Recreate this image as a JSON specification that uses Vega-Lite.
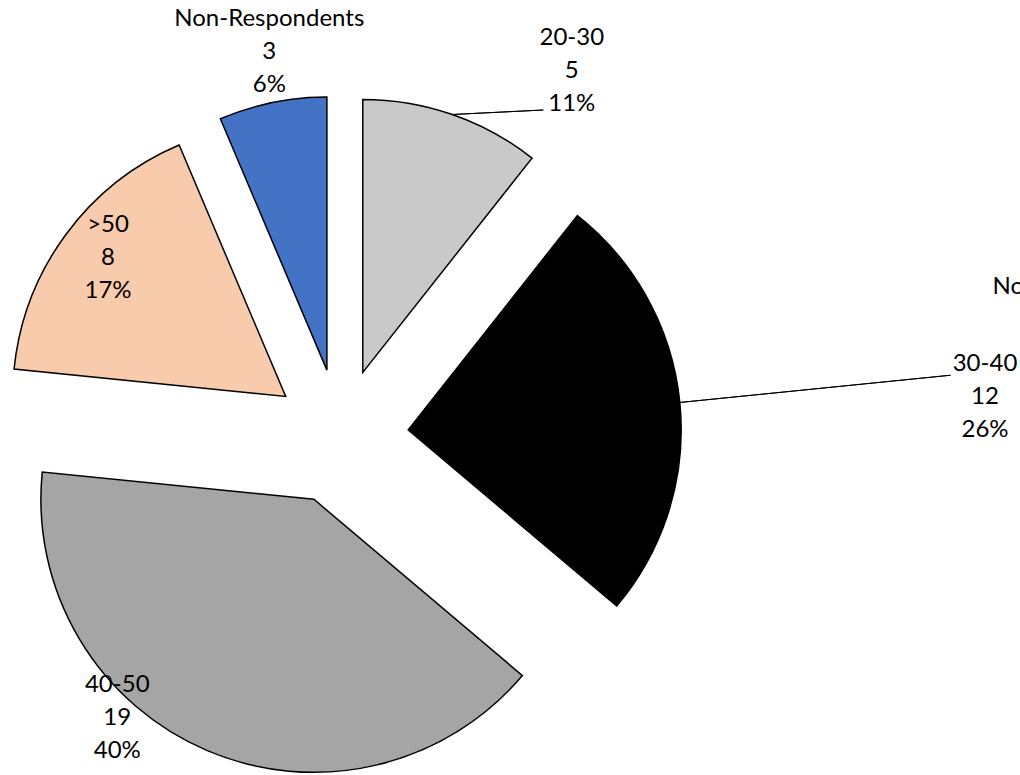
{
  "$schema": "https://vega.github.io/schema/vega-lite/v6.json",
  "width": 560,
  "height": 560,
  "autosize": {"type": "none"},
  "padding": {"left": 60.5, "top": 156.7, "right": 399.5, "bottom": 58.3},
  "data": {
    "values": [
      {"age": "20-30", "count": 5, "pct": "11%", "order": 1},
      {"age": "30-40", "count": 12, "pct": "26%", "order": 2},
      {"age": "40-50", "count": 19, "pct": "40%", "order": 3},
      {"age": ">50", "count": 8, "pct": "17%", "order": 4},
      {"age": "Non-Respondents", "count": 3, "pct": "6%", "order": 5}
    ]
  },
  "transform": [
    {"stack": "count", "groupby": [], "sort": [{"field": "order", "order": "ascending"}], "as": ["t0", "t1"]},
    {"calculate": "datum.age + '\\n' + datum.count + '\\n' + datum.pct", "as": "label"}
  ],
  "encoding": {
    "theta": {"field": "t0", "type": "quantitative", "stack": null, "scale": {"domain": [0, 47], "range": [0, 6.283185307179586]}}
  },
  "layer": [
    {"transform": [{"filter": "datum.age === '20-30'"}], "mark": {"type": "arc", "radius": 273, "xOffset": 22.3, "yOffset": -64.3, "fill": "#C9C9C9", "stroke": "#000000", "strokeWidth": 1.5}, "encoding": {"theta2": {"field": "t1"}}},
    {"transform": [{"filter": "datum.age === '30-40'"}], "mark": {"type": "arc", "radius": 273, "xOffset": 67.7, "yOffset": -6.9, "fill": "#000000", "stroke": "#000000", "strokeWidth": 1.5}, "encoding": {"theta2": {"field": "t1"}}},
    {"transform": [{"filter": "datum.age === '40-50'"}], "mark": {"type": "arc", "radius": 273, "xOffset": -26.6, "yOffset": 62.6, "fill": "#A5A5A5", "stroke": "#000000", "strokeWidth": 1.5}, "encoding": {"theta2": {"field": "t1"}}},
    {"transform": [{"filter": "datum.age === '>50'"}], "mark": {"type": "arc", "radius": 273, "xOffset": -54.8, "yOffset": -40.3, "fill": "#F8CBAD", "stroke": "#000000", "strokeWidth": 1.5}, "encoding": {"theta2": {"field": "t1"}}},
    {"transform": [{"filter": "datum.age === 'Non-Respondents'"}], "mark": {"type": "arc", "radius": 273, "xOffset": -13.6, "yOffset": -66.6, "fill": "#4472C4", "stroke": "#000000", "strokeWidth": 1.5}, "encoding": {"theta2": {"field": "t1"}}},
    {"transform": [{"filter": "datum.age === '30-40'"}], "mark": {"type": "arc", "radius": 273, "radius2": 545, "thetaOffset": 0.8021, "theta2Offset": 0.8021, "xOffset": 67.7, "yOffset": -6.9, "stroke": "#000000", "strokeWidth": 1, "fill": null}, "encoding": {"theta2": {"field": "t0"}}},
    {"transform": [{"filter": "datum.age === '20-30'"}], "mark": {"type": "arc", "radius": 0, "radius2": 91, "thetaOffset": 1.5214, "theta2Offset": 1.5214, "xOffset": 111.9, "yOffset": -322.2, "stroke": "#000000", "strokeWidth": 1, "fill": null}, "encoding": {"theta2": {"field": "t0"}}},
    {"transform": [{"filter": "datum.age === '20-30'"}], "mark": {"type": "text", "radius": 432.8, "thetaOffset": 0.5637, "dy": -33, "font": "Lato", "fontSize": 24, "lineHeight": 33, "lineBreak": "\n", "align": "center", "baseline": "middle", "color": "#000000"}, "encoding": {"text": {"field": "label"}}},
    {"transform": [{"filter": "datum.age === '30-40'"}], "mark": {"type": "text", "radius": 645.7, "thetaOffset": 0.8413, "dy": -33, "font": "Lato", "fontSize": 24, "lineHeight": 33, "lineBreak": "\n", "align": "center", "baseline": "middle", "color": "#000000"}, "encoding": {"text": {"field": "label"}}},
    {"transform": [{"filter": "datum.age === '40-50'"}], "mark": {"type": "text", "radius": 359.4, "thetaOffset": 1.5392, "dy": -33, "font": "Lato", "fontSize": 24, "lineHeight": 33, "lineBreak": "\n", "align": "center", "baseline": "middle", "color": "#000000"}, "encoding": {"text": {"field": "label"}}},
    {"transform": [{"filter": "datum.age === '>50'"}], "mark": {"type": "text", "radius": 293.2, "thetaOffset": 0.5552, "dy": -33, "font": "Lato", "fontSize": 24, "lineHeight": 33, "lineBreak": "\n", "align": "center", "baseline": "middle", "color": "#000000"}, "encoding": {"text": {"field": "label"}}},
    {"transform": [{"filter": "datum.age === 'Non-Respondents'"}], "mark": {"type": "text", "radius": 390.8, "thetaOffset": 0.2178, "dy": -33, "font": "Lato", "fontSize": 24, "lineHeight": 33, "lineBreak": "\n", "align": "center", "baseline": "middle", "color": "#000000"}, "encoding": {"text": {"field": "label"}}},
    {"transform": [{"filter": "datum.age === '30-40'"}], "mark": {"type": "text", "radius": 669, "thetaOffset": 0.6772, "font": "Lato", "fontSize": 24, "align": "left", "baseline": "middle", "color": "#000000"}, "encoding": {"text": {"value": "Non-Respondents"}}}
  ],
  "config": {"view": {"stroke": null}}
}
